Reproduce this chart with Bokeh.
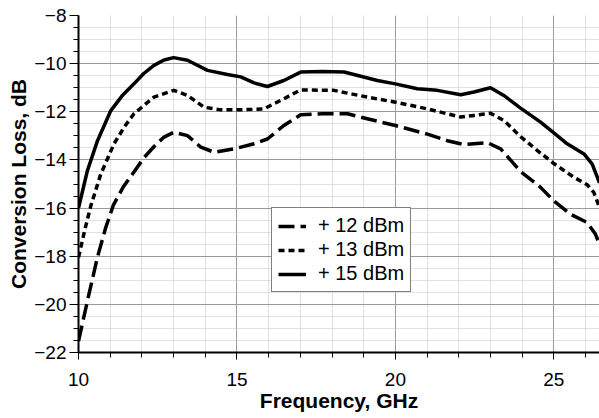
from bokeh.plotting import figure
from bokeh.models import Range1d, SingleIntervalTicker, Legend, LegendItem
from bokeh.embed import file_html
from bokeh.resources import INLINE

# +15 dBm (solid)
f15 = [10.0, 10.28, 10.6, 11.02, 11.4, 11.75, 12.05, 12.38, 12.7, 13.0, 13.44, 14.07, 14.7,
       15.12, 15.54, 15.96, 16.48, 17.01, 17.7, 18.38, 19.43, 20.0, 20.69, 21.32,
       22.06, 22.48, 23.0, 23.42, 23.95, 24.58, 25.0, 25.42, 25.95, 26.21, 26.44]
cl15 = [-16.0, -14.45, -13.2, -11.95, -11.3, -10.84, -10.42, -10.07, -9.85, -9.75, -9.86,
        -10.28, -10.45, -10.55, -10.8, -10.95, -10.7, -10.35, -10.33, -10.35, -10.7,
        -10.84, -11.04, -11.11, -11.29, -11.18, -11.0, -11.32, -11.85, -12.43, -12.88,
        -13.33, -13.75, -14.17, -14.95]

# +13 dBm (short dash)
f13 = [10.0, 10.2, 10.39, 10.7, 11.12, 11.45, 11.75, 12.38, 13.01, 13.44, 13.96, 14.49, 15.12,
       15.85, 16.48, 17.01, 18.06, 19.11, 20.0, 21.01, 22.06, 22.48, 23.0, 23.42, 23.95,
       24.48, 25.0, 25.63, 26.05, 26.26, 26.44]
cl13 = [-18.05, -16.9, -15.9, -14.6, -13.33, -12.62, -12.08, -11.39, -11.11, -11.32, -11.81,
        -11.92, -11.92, -11.88, -11.46, -11.09, -11.11, -11.39, -11.6, -11.88, -12.22,
        -12.15, -12.06, -12.36, -13.03, -13.61, -14.15, -14.72, -15.03, -15.35, -15.97]

# +12 dBm (long dash)
f12 = [10.0, 10.3, 10.6, 10.85, 11.1, 11.4, 11.75, 12.07, 12.4, 12.7, 13.01, 13.44, 13.86,
       14.28, 14.91, 15.54, 15.96, 16.48, 17.01, 17.7, 18.49, 19.11, 20.0, 21.01, 21.64,
       22.16, 22.9, 23.32, 23.95, 24.58, 25.0, 25.53, 26.05, 26.31, 26.44]
cl12 = [-21.53, -19.75, -18.03, -16.85, -15.88, -15.15, -14.5, -13.9, -13.42, -13.05,
        -12.85, -12.99, -13.47, -13.68, -13.54, -13.33, -13.13, -12.57, -12.12, -12.08,
        -12.08, -12.29, -12.57, -12.93, -13.2, -13.36, -13.28, -13.54, -14.48, -15.14,
        -15.7, -16.26, -16.6, -17.08, -17.5]

labels = ["+ 12 dBm", "+ 13 dBm", "+ 15 dBm"]
y_ticks = list(range(-22, -7, 2))

FONT = "Liberation Sans"

p = figure(width=599, height=418, output_backend="svg", toolbar_location=None,
           x_range=Range1d(10, 26.44), y_range=Range1d(-22, -8),
           min_border_left=78, min_border_right=0, min_border_top=15, min_border_bottom=66)
p.outline_line_color = None
p.background_fill_color = "white"

p.xaxis.ticker = SingleIntervalTicker(interval=5, num_minor_ticks=5)
p.yaxis.ticker = SingleIntervalTicker(interval=2, num_minor_ticks=4)
p.yaxis.major_label_overrides = {v: "\u2212" + str(abs(v)) for v in y_ticks}

for ax in (p.xaxis[0], p.yaxis[0]):
    ax.axis_line_color = "black"
    ax.axis_line_width = 2
    ax.major_tick_line_color = "black"
    ax.minor_tick_line_color = "black"
    ax.major_tick_in = 0
    ax.minor_tick_in = 0
    ax.major_label_text_font = FONT
    ax.major_label_text_font_size = "19px"
    ax.major_label_text_color = "black"
    ax.axis_label_text_font = FONT
    ax.axis_label_text_font_style = "bold"
    ax.axis_label_text_font_size = "21px"
    ax.axis_label_text_color = "black"

p.xaxis.major_tick_out = 7
p.xaxis.minor_tick_out = 5
p.yaxis.major_tick_out = 9
p.yaxis.minor_tick_out = 5
p.xaxis.major_label_standoff = 13
p.yaxis.major_label_standoff = 3
p.xaxis.axis_label_standoff = 0
p.yaxis.axis_label_standoff = 1
p.xaxis.axis_label = "Frequency, GHz"
p.yaxis.axis_label = "Conversion Loss, dB"

for g in (p.xgrid[0], p.ygrid[0]):
    g.grid_line_color = "#9a9a9a"
    g.grid_line_width = 1
    g.minor_grid_line_color = "#c4c4c4"
    g.minor_grid_line_dash = "1 1"
    g.minor_grid_line_width = 1

r12 = p.line(f12, cl12, line_color="black", line_width=3.5, line_dash="16 6", line_join="round")
r13 = p.line(f13, cl13, line_color="black", line_width=3.5, line_dash="6 4", line_join="round")
r15 = p.line(f15, cl15, line_color="black", line_width=3.5, line_join="round")

legend = Legend(items=[LegendItem(label=labels[0], renderers=[r12]),
                       LegendItem(label=labels[1], renderers=[r13]),
                       LegendItem(label=labels[2], renderers=[r15])],
                location=(193, 60), margin=0, padding=6, spacing=1,
                glyph_width=28, label_standoff=12,
                label_text_font=FONT, label_text_font_size="20px",
                label_text_color="black",
                border_line_color="black", border_line_width=1,
                background_fill_color="white", background_fill_alpha=1)
p.add_layout(legend, "center")

open("out.html", "w").write(file_html(p, INLINE))
